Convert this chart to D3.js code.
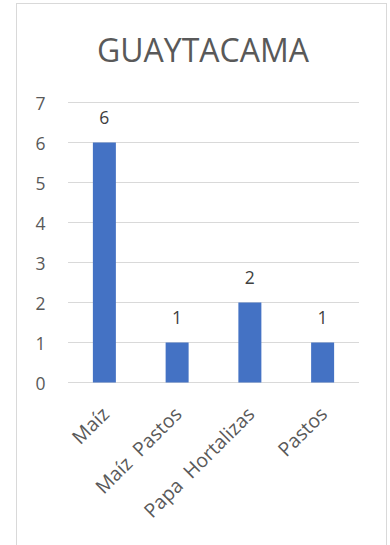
<!DOCTYPE html>
<html><head><meta charset="utf-8">
<script src="https://cdn.jsdelivr.net/npm/d3@7"></script>
<style>html,body{margin:0;padding:0;background:#fff;}svg{display:block;} text{white-space:pre;}</style>
</head><body>
<script>
const categories = ["Maíz", "Maíz  Pastos", "Papa  Hortalizas", "Pastos"];
const values = [6, 1, 2, 1];
const yTicks = [0, 1, 2, 3, 4, 5, 6, 7];
const title = "GUAYTACAMA";

const W = 390, H = 545;
const svg = d3.select("body").append("svg").attr("width", W).attr("height", H);
const font = "'Open Sans', 'Noto Sans', sans-serif";

svg.append("rect").attr("x", 16.5).attr("y", 3.5).attr("width", 370).attr("height", 560)
  .attr("fill", "#fff").attr("stroke", "#d9d9d9").attr("stroke-width", 1);

const x = d3.scaleBand().domain(categories).range([68, 359]).paddingInner(0.684).paddingOuter(0.342);
const y = d3.scaleLinear().domain([0, 7]).range([382.5, 102.5]);

svg.append("text").attr("x", 203).attr("y", 61.5).attr("text-anchor", "middle")
  .attr("font-family", font).attr("font-size", 32).attr("fill", "#595959").text(title);

const grid = svg.append("g");
grid.selectAll("line").data(yTicks).join("line")
  .attr("x1", 68).attr("x2", 359).attr("y1", d => y(d)).attr("y2", d => y(d))
  .attr("stroke", "#d9d9d9").attr("stroke-width", 1);

svg.append("g").selectAll("text").data(yTicks).join("text")
  .attr("x", 45.5).attr("y", d => y(d) + 7.5).attr("text-anchor", "end")
  .attr("font-family", font).attr("font-size", 17.5).attr("fill", "#595959").text(d => d);

svg.append("g").selectAll("rect").data(values).join("rect")
  .attr("x", (d, i) => x(categories[i])).attr("width", x.bandwidth())
  .attr("y", d => y(d)).attr("height", d => y(0) - y(d)).attr("fill", "#4472c4");

svg.append("g").selectAll("text").data(values).join("text")
  .attr("x", (d, i) => x(categories[i]) + x.bandwidth() / 2).attr("y", d => y(d) - 19)
  .attr("text-anchor", "middle")
  .attr("font-family", font).attr("font-size", 17.5).attr("fill", "#404040").text(d => d);

svg.append("g").selectAll("text").data(categories).join("text")
  .attr("transform", d => `translate(${x(d) + x.bandwidth() / 2 + 6},${y(0) + 33}) rotate(-45)`)
  .attr("text-anchor", "end")
  .attr("font-family", font).attr("font-size", 19.5).attr("fill", "#595959").text(d => d);
</script>
</body></html>
